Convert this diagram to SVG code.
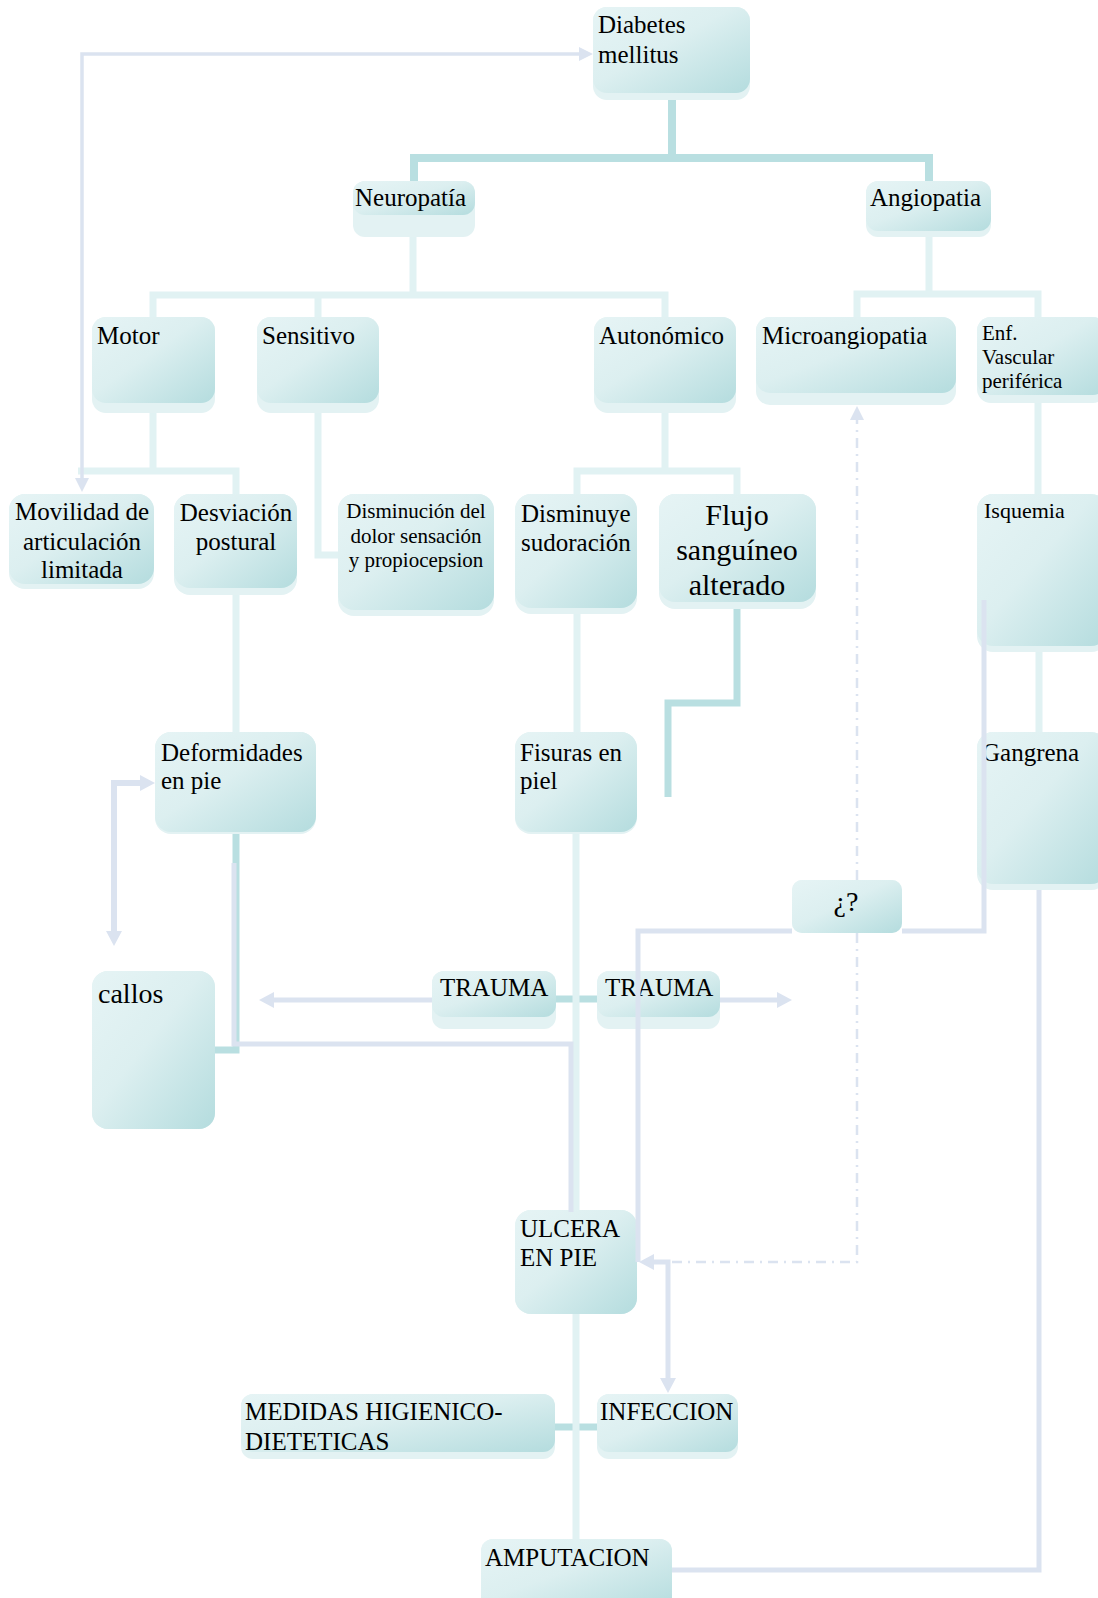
<svg xmlns="http://www.w3.org/2000/svg" width="1098" height="1598" viewBox="0 0 1098 1598">
<defs>
<style>
.bg{fill:#e3f2f3}
.fg{fill:url(#g)}
text{font-family:"Liberation Serif","Times New Roman",serif;font-size:25px;fill:#000}
.s21{font-size:21px}
.s22{font-size:22px}
.s28{font-size:28px}
.s30{font-size:30px}
.mid{text-anchor:middle}
.lt{fill:none;stroke:#e1f2f3;stroke-width:7}
.dk{fill:none;stroke:#b9dfe1;stroke-width:8}
.bl{fill:none;stroke:#dbe3f0;stroke-width:5}
.dd{fill:none;stroke:#dbe3f0;stroke-width:2.5;stroke-dasharray:10 6 2 6}
</style>
<linearGradient id="g" x1="0" y1="0" x2="1" y2="1">
<stop offset="0" stop-color="#e6f4f5"/>
<stop offset="0.45" stop-color="#dceff0"/>
<stop offset="1" stop-color="#b4dcde"/>
</linearGradient>
<marker id="ah" markerUnits="userSpaceOnUse" viewBox="0 0 15 16" markerWidth="15" markerHeight="16" refX="0" refY="8" orient="auto-start-reverse">
<path d="M0,0 L15,8 L0,16 z" fill="#dbe3f0"/>
</marker>
<marker id="ahs" markerUnits="userSpaceOnUse" viewBox="0 0 14 14" markerWidth="14" markerHeight="14" refX="0" refY="7" orient="auto-start-reverse">
<path d="M0,0 L14,7 L0,14 z" fill="#dbe3f0"/>
</marker>
</defs>
<rect width="1098" height="1598" fill="#ffffff"/>

<g id="n-diabetes"><rect class="bg" x="593" y="7" width="157" height="93" rx="14"/><rect class="fg" x="593" y="7" width="157" height="86" rx="14"/><text x="598" y="33">Diabetes</text><text x="598" y="63">mellitus</text></g>
<g id="n-neuropatia"><rect class="bg" x="353" y="181" width="122" height="56" rx="12"/><rect class="fg" x="353" y="181" width="122" height="34" rx="12"/><text x="355" y="206">Neuropatía</text></g>
<g id="n-angiopatia"><rect class="bg" x="866" y="181" width="125" height="56" rx="12"/><rect class="fg" x="866" y="181" width="125" height="50" rx="12"/><text x="870" y="206">Angiopatia</text></g>
<g id="n-motor"><rect class="bg" x="92" y="317" width="123" height="96" rx="14"/><rect class="fg" x="92" y="317" width="123" height="86" rx="14"/><text x="97" y="344">Motor</text></g>
<g id="n-sensitivo"><rect class="bg" x="257" y="317" width="122" height="96" rx="14"/><rect class="fg" x="257" y="317" width="122" height="86" rx="14"/><text x="262" y="344">Sensitivo</text></g>
<g id="n-autonomico"><rect class="bg" x="594" y="317" width="142" height="96" rx="14"/><rect class="fg" x="594" y="317" width="142" height="86" rx="14"/><text x="599" y="344">Autonómico</text></g>
<g id="n-micro"><rect class="bg" x="756" y="317" width="200" height="88" rx="14"/><rect class="fg" x="756" y="317" width="200" height="76" rx="14"/><text x="762" y="344">Microangiopatia</text></g>
<g id="n-enf"><rect class="bg" x="977" y="317" width="130" height="86" rx="14"/><rect class="fg" x="977" y="317" width="130" height="78" rx="14"/><text class="s21" x="982" y="340">Enf.</text><text class="s21" x="982" y="364">Vascular</text><text class="s21" x="982" y="388">periférica</text></g>
<g id="n-movilidad"><rect class="bg" x="9" y="494" width="145" height="95" rx="16"/><rect class="fg" x="9" y="494" width="145" height="90" rx="16"/><text class="mid" x="82" y="520">Movilidad de</text><text class="mid" x="82" y="550">articulación</text><text class="mid" x="82" y="578">limitada</text></g>
<g id="n-desviacion"><rect class="bg" x="174" y="494" width="123" height="101" rx="16"/><rect class="fg" x="174" y="494" width="123" height="94" rx="16"/><text class="mid" x="236" y="521">Desviación</text><text class="mid" x="236" y="550">postural</text></g>
<g id="n-disminucion"><rect class="bg" x="338" y="494" width="156" height="122" rx="16"/><rect class="fg" x="338" y="494" width="156" height="116" rx="16"/><text class="s21 mid" x="416" y="518">Disminución del</text><text class="s21 mid" x="416" y="543">dolor sensación</text><text class="s21 mid" x="416" y="567">y propiocepsion</text></g>
<g id="n-sudoracion"><rect class="bg" x="515" y="494" width="122" height="120" rx="16"/><rect class="fg" x="515" y="494" width="122" height="114" rx="16"/><text x="521" y="522">Disminuye</text><text x="521" y="551">sudoración</text></g>
<g id="n-flujo"><rect class="bg" x="659" y="494" width="157" height="115" rx="16"/><rect class="fg" x="659" y="494" width="157" height="108" rx="16"/><text class="s30 mid" x="737" y="525">Flujo</text><text class="s30 mid" x="737" y="560">sanguíneo</text><text class="s30 mid" x="737" y="595">alterado</text></g>
<g id="n-isquemia"><rect class="bg" x="977" y="494" width="130" height="158" rx="16"/><rect class="fg" x="977" y="494" width="130" height="152" rx="16"/><text class="s22" x="984" y="518">Isquemia</text></g>
<g id="n-deformidades"><rect class="bg" x="155" y="732" width="161" height="102" rx="16"/><rect class="fg" x="155" y="732" width="161" height="100" rx="16"/><text x="161" y="761">Deformidades</text><text x="161" y="789">en pie</text></g>
<g id="n-fisuras"><rect class="bg" x="515" y="732" width="122" height="102" rx="16"/><rect class="fg" x="515" y="732" width="122" height="100" rx="16"/><text x="520" y="761">Fisuras en</text><text x="520" y="789">piel</text></g>
<g id="n-gangrena"><rect class="bg" x="977" y="732" width="130" height="158" rx="16"/><rect class="fg" x="977" y="732" width="130" height="152" rx="16"/><text x="982" y="761">Gangrena</text></g>
<g id="n-pregunta"><rect class="bg" x="792" y="880" width="110" height="53" rx="10"/><rect class="fg" x="792" y="880" width="110" height="53" rx="10"/><text class="s28 mid" x="846" y="911">¿?</text></g>
<g id="n-callos"><rect class="bg" x="92" y="971" width="123" height="158" rx="16"/><rect class="fg" x="92" y="971" width="123" height="158" rx="16"/><text class="s28" x="98" y="1003">callos</text></g>
<g id="n-trauma1"><rect class="bg" x="432" y="971" width="124" height="58" rx="12"/><rect class="fg" x="432" y="971" width="124" height="46" rx="12"/><text x="440" y="996">TRAUMA</text></g>
<g id="n-trauma2"><rect class="bg" x="597" y="971" width="123" height="58" rx="12"/><rect class="fg" x="597" y="971" width="123" height="46" rx="12"/><text x="605" y="996">TRAUMA</text></g>
<g id="n-ulcera"><rect class="bg" x="515" y="1210" width="122" height="104" rx="16"/><rect class="fg" x="515" y="1210" width="122" height="104" rx="16"/><text x="520" y="1237">ULCERA</text><text x="520" y="1266">EN PIE</text></g>
<g id="n-medidas"><rect class="bg" x="241" y="1394" width="314" height="65" rx="12"/><rect class="fg" x="241" y="1394" width="314" height="58" rx="12"/><text x="245" y="1420">MEDIDAS HIGIENICO-</text><text x="245" y="1450">DIETETICAS</text></g>
<g id="n-infeccion"><rect class="bg" x="597" y="1394" width="141" height="65" rx="12"/><rect class="fg" x="597" y="1394" width="141" height="58" rx="12"/><text x="600" y="1420">INFECCION</text></g>
<g id="n-amputacion"><rect class="bg" x="481" y="1539" width="191" height="70" rx="12"/><rect class="fg" x="481" y="1539" width="191" height="70" rx="12"/><text x="485" y="1566">AMPUTACION</text></g>

<g id="connectors">
<path class="dk" d="M672,100 V158 M414,181 V158 H929 V181"/>
<path class="dk" d="M737,609 V703 H668 V797" style="stroke-width:7"/>
<path class="dk" d="M236,834 V1050 H215" style="stroke-width:7"/>
<path class="dk" d="M556,999 H597" style="stroke-width:7"/>
<path class="dk" d="M555,1427 H597" style="stroke-width:7"/>

<path class="lt" d="M413,237 V295 M153,317 V295 H665 V317 M318,295 V317"/>
<path class="lt" d="M929,237 V294 M857,317 V294 H1038 V317"/>
<path class="lt" d="M153,413 V471 M78,471 H236 V494"/>
<path class="lt" d="M318,413 V555 H338"/>
<path class="lt" d="M665,413 V471 M577,494 V471 H737 V494"/>
<path class="lt" d="M236,595 V732"/>
<path class="lt" d="M577,614 V732 M576,834 V1210 M576,1314 V1539"/>
<path class="lt" d="M1038,403 V494 M1039,652 V732"/>

<path class="bl" d="M82,478 V54 H579" style="stroke-width:3.5" marker-start="url(#ahs)" marker-end="url(#ahs)"/>
<path class="bl" d="M114,931 V783 H140" style="stroke-width:6" marker-start="url(#ah)" marker-end="url(#ah)"/>
<path class="bl" d="M432,1000 H274" marker-end="url(#ah)"/>
<path class="bl" d="M720,1000 H777" marker-end="url(#ah)"/>
<path class="bl" d="M234,863 V1044 H571 V1212"/>
<path class="bl" d="M984,600 V931 H902 M792,931 H638 V1262"/>
<path class="bl" d="M654,1262 H668 V1378" marker-start="url(#ah)" marker-end="url(#ah)"/>
<path class="bl" d="M1039,890 V1570 H672"/>
<path class="dd" d="M857,933 V1262 H670"/>
<path class="dd" d="M857,880 V420" marker-end="url(#ahs)"/>
</g>
</svg>
